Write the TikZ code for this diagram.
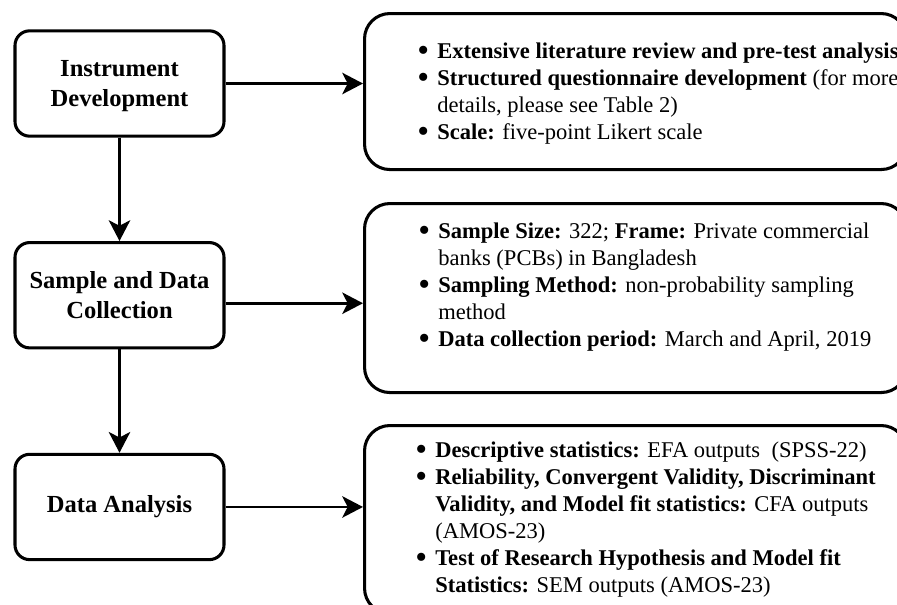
\documentclass[tikz,border=0pt]{standalone}
\usepackage{fontspec}
\setmainfont{Liberation Serif}
\usepackage{tikz}
\usetikzlibrary{arrows.meta,positioning,calc}
\tikzset{
  stage/.style={draw, line width=2.3pt, rounded corners=11pt, minimum width=156.75pt, minimum height=79pt,
    align=center, font=\bfseries\fontsize{18.4}{22.5}\selectfont},
  detail/.style={draw, line width=2.3pt, rounded corners=19pt, minimum width=406.5pt, anchor=north west, inner sep=0pt},
  items/.style={anchor=base west, inner sep=0pt, font=\fontsize{16.9}{20.25}\selectfont},
  arr/.style={-{Stealth[length=15.5pt, width=16pt, inset=4pt]}, line width=2.2pt}
}
\newcommand{\bul}{\raisebox{-2.6pt}[0pt][0pt]{\scalebox{1.5}{\textbullet}}}
\begin{document}
\begin{tikzpicture}[x=0.75pt, y=-0.75pt, node distance=77.5pt]
\useasboundingbox (0,0) rectangle (897,604);
% left column
\node[stage, text depth=0pt] (instr) at (119.5,83.5) {Instrument\\Development};
\node[stage, below=of instr] (sample) {Sample and Data\\Collection};
\node[stage, below=of sample] (analysis) {Data Analysis};
% right column
\node[detail, minimum height=117pt] (lit) at (363,12) {};
\node[detail, minimum height=141.75pt] (frame) at (363,202) {};
\node[detail, minimum height=141pt] (stats) at (363,424) {};
\node[items] (litx) at (417,58) {\begin{tabular}[t]{@{}p{15pt}@{}l@{}}
\bul & \textbf{Extensive literature review and pre-test analysis}\\
\bul & \textbf{Structured questionnaire development} (for more\\
     & details, please see Table 2)\\
\bul & \textbf{Scale:} five-point Likert scale
\end{tabular}};
\node[items] (framex) at (418,238) {\begin{tabular}[t]{@{}p{15pt}@{}l@{}}
\bul & \textbf{Sample Size:} 322; \textbf{Frame:} Private commercial\\
     & banks (PCBs) in Bangladesh\\
\bul & \textbf{Sampling Method:} non-probability sampling\\
     & method\\
\bul & \textbf{Data collection period:} March and April, 2019
\end{tabular}};
\node[items] (statsx) at (415,457) {\begin{tabular}[t]{@{}p{15pt}@{}l@{}}
\bul & \textbf{Descriptive statistics:} EFA outputs\ \ (SPSS-22)\\
\bul & \textbf{Reliability, Convergent Validity, Discriminant}\\
     & \textbf{Validity, and Model fit statistics:} CFA outputs\\
     & (AMOS-23)\\
\bul & \textbf{Test of Research Hypothesis and Model fit}\\
     & \textbf{Statistics:} SEM outputs (AMOS-23)
\end{tabular}};
% connectors
\draw[arr] (instr.south) -- (sample.north);
\draw[arr] (sample.south) -- (analysis.north);
\draw[arr] (instr.east) -- (instr.east -| lit.west);
\draw[arr] ([yshift=-6pt]sample.east) -- ([yshift=-6pt]sample.east -| frame.west);
\draw[arr] (analysis.east) -- (analysis.east -| stats.west);
\end{tikzpicture}
\end{document}
